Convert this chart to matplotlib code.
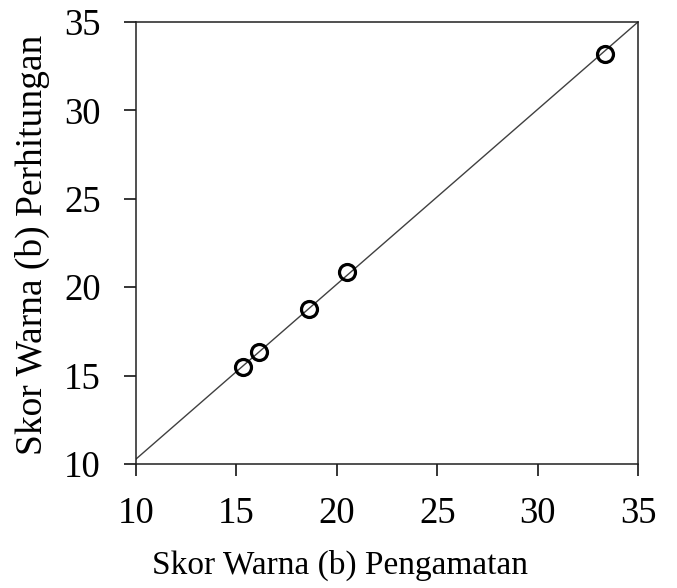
import matplotlib.pyplot as plt

# skor warna (b): pengamatan vs perhitungan
pengamatan = [15.34, 16.14, 18.63, 20.52, 33.36]
perhitungan = [15.50, 16.32, 18.75, 20.88, 33.19]

# garis acuan
garis_x = [10, 35]
garis_y = [10.28, 35]

ticks = [10, 15, 20, 25, 30, 35]

plt.rcParams['font.family'] = ['Liberation Serif', 'DejaVu Serif']

fig = plt.figure(figsize=(6.77, 5.88), dpi=100)
ax = fig.add_axes([136 / 677, 1 - 464 / 588, (638 - 136) / 677, (464 - 22) / 588])

ax.plot(garis_x, garis_y, color='#404040', lw=1.0)
ax.plot(pengamatan, perhitungan, 'o', ms=11.5, mfc='none', mec='black', mew=2.3)

ax.set_xlim(10, 35)
ax.set_ylim(10, 35)
ax.set_xticks(ticks)
ax.set_yticks(ticks)
ax.tick_params(direction='out', length=8.5, width=1.1, labelsize=26.5, colors='black')
ax.tick_params(axis='x', pad=15)
ax.tick_params(axis='y', pad=17)
for s in ax.spines.values():
    s.set_linewidth(1.1)
    s.set_color('#202020')

ax.set_xlabel('Skor Warna (b) Pengamatan', fontsize=24)
ax.set_ylabel('Skor Warna (b) Perhitungan', fontsize=27)
ax.xaxis.set_label_coords(0.406, -0.193)
ax.yaxis.set_label_coords(-0.172, 0.495)

plt.savefig('out.png', dpi=100)
